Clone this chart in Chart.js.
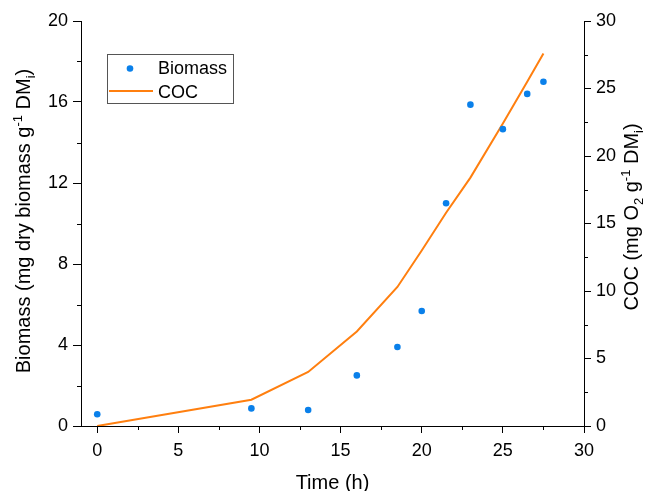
<!DOCTYPE html>
<html>
<head>
<meta charset="utf-8">
<script src="https://cdn.jsdelivr.net/npm/chart.js@4.4.1/dist/chart.umd.min.js"></script>
<style>
  html, body { margin: 0; padding: 0; background: #fff; }
</style>
</head>
<body>
<canvas id="myChart" width="649" height="491"></canvas>
<script>
// DATA
const timeH = [0, 9.5, 13, 16, 18.5, 20, 21.5, 23, 25, 26.5, 27.5];
const biomass = [0.58, 0.87, 0.79, 2.5, 3.9, 5.68, 11.0, 15.87, 14.66, 16.4, 17.0];
const coc = [0, 1.95, 4.0, 7.0, 10.3, 13.0, 15.8, 18.4, 22.4, 25.5, 27.6];

const xTicks = [0, 5, 10, 15, 20, 25, 30];
const biomassTicks = [0, 4, 8, 12, 16, 20];
const cocTicks = [0, 5, 10, 15, 20, 25, 30];

const FONT = "'Liberation Sans', Arial, sans-serif";
const blue = '#0a80ea';
const orange = '#ff7f0f';

function pts(xs, ys) {
  return xs.map((x, i) => ({ x: x, y: ys[i] }));
}
function setTicks(arr) {
  return (scale) => { scale.ticks = arr.map(v => ({ value: v })); };
}

// minor ticks half way between the major ones
const minorTicks = {
  id: 'minorTicks',
  afterDraw(chart) {
    const ctx = chart.ctx;
    const sx = chart.scales.x, sy = chart.scales.y, sy2 = chart.scales.y2;
    ctx.save();
    ctx.strokeStyle = '#000';
    ctx.lineWidth = 1;
    ctx.beginPath();
    for (let i = 0; i < xTicks.length - 1; i++) {
      const px = Math.round(sx.getPixelForValue((xTicks[i] + xTicks[i + 1]) / 2)) + 0.5;
      ctx.moveTo(px, sx.top);
      ctx.lineTo(px, sx.top + 4);
    }
    for (let i = 0; i < biomassTicks.length - 1; i++) {
      const py = Math.round(sy.getPixelForValue((biomassTicks[i] + biomassTicks[i + 1]) / 2)) + 0.5;
      ctx.moveTo(sy.right, py);
      ctx.lineTo(sy.right - 4, py);
    }
    for (let i = 0; i < cocTicks.length - 1; i++) {
      const py = Math.round(sy2.getPixelForValue((cocTicks[i] + cocTicks[i + 1]) / 2)) + 0.5;
      ctx.moveTo(sy2.left, py);
      ctx.lineTo(sy2.left + 4, py);
    }
    ctx.stroke();
    ctx.restore();
  }
};

// axis titles with sub/superscripts
function drawRich(ctx, parts, x, y, rotate) {
  ctx.save();
  ctx.translate(x, y);
  if (rotate) ctx.rotate(-Math.PI / 2);
  ctx.textBaseline = 'alphabetic';
  ctx.fillStyle = '#000';
  let total = 0;
  parts.forEach(p => {
    ctx.font = (p.sup || p.sub ? 13 : 20) + 'px ' + FONT;
    p.w = ctx.measureText(p.t).width;
    total += p.w;
  });
  let cx = -total / 2;
  parts.forEach(p => {
    ctx.font = (p.sup || p.sub ? 13 : 20) + 'px ' + FONT;
    const dy = p.sup ? -8 : (p.sub ? 5 : 0);
    ctx.fillText(p.t, cx, dy);
    cx += p.w;
  });
  ctx.restore();
}

const axisTitles = {
  id: 'axisTitles',
  afterDraw(chart) {
    const ctx = chart.ctx;
    const a = chart.chartArea;
    drawRich(ctx, [{ t: 'Time (h)' }], (a.left + a.right) / 2, 489, false);
    drawRich(ctx, [
      { t: 'Biomass (mg dry biomass g' }, { t: '-1', sup: true },
      { t: ' DM' }, { t: 'i', sub: true }, { t: ')' }
    ], 30, 221, true);
    drawRich(ctx, [
      { t: 'COC (mg O' }, { t: '2', sub: true }, { t: ' g' }, { t: '-1', sup: true },
      { t: ' DM' }, { t: 'i', sub: true }, { t: ')' }
    ], 638, 217, true);
  }
};

// legend with a frame, top left in the plot
const boxLegend = {
  id: 'boxLegend',
  afterDraw(chart) {
    const ctx = chart.ctx;
    const ds = chart.data.datasets;
    ctx.save();
    ctx.strokeStyle = '#555';
    ctx.lineWidth = 1;
    ctx.strokeRect(107.5, 54.5, 126, 49);
    ctx.font = '18px ' + FONT;
    ctx.fillStyle = '#000';
    ctx.textBaseline = 'alphabetic';
    // biomass
    ctx.beginPath();
    ctx.fillStyle = ds[0].backgroundColor;
    ctx.arc(130, 68.5, 3.3, 0, Math.PI * 2);
    ctx.fill();
    ctx.fillStyle = '#000';
    ctx.fillText(ds[0].label, 158, 73.5);
    // coc
    ctx.beginPath();
    ctx.strokeStyle = ds[1].borderColor;
    ctx.lineWidth = 2;
    ctx.moveTo(109, 91);
    ctx.lineTo(153, 91);
    ctx.stroke();
    ctx.fillText(ds[1].label, 158, 98);
    ctx.restore();
  }
};

const tickFont = { family: FONT, size: 18 };

const config = {
  type: 'scatter',
  data: {
    datasets: [{
      label: 'Biomass',
      data: pts(timeH, biomass),
      yAxisID: 'y',
      backgroundColor: blue,
      borderColor: blue,
      pointRadius: 3.3,
      pointBorderWidth: 0,
      order: 1
    }, {
      label: 'COC',
      data: pts(timeH, coc),
      yAxisID: 'y2',
      showLine: true,
      borderColor: orange,
      backgroundColor: orange,
      borderWidth: 2,
      pointRadius: 0,
      tension: 0,
      order: 2
    }]
  },
  options: {
    responsive: false,
    animation: false,
    layout: { padding: { top: 21, left: 0, right: 0, bottom: 0 } },
    plugins: {
      legend: { display: false },
      tooltip: { enabled: false }
    },
    scales: {
      x: {
        type: 'linear',
        min: -1,
        max: 30,
        afterBuildTicks: setTicks(xTicks),
        afterFit: (s) => { s.height = 65; },
        ticks: { font: tickFont, color: '#000', padding: 7, maxRotation: 0 },
        grid: { drawOnChartArea: false, tickLength: 7, color: '#000' },
        border: { color: '#000', width: 1 }
      },
      y: {
        position: 'left',
        min: 0,
        max: 20,
        afterBuildTicks: setTicks(biomassTicks),
        afterFit: (s) => { s.width = 81; },
        ticks: { font: tickFont, color: '#000', padding: 5 },
        grid: { drawOnChartArea: false, tickLength: 8, color: '#000' },
        border: { color: '#000', width: 1 }
      },
      y2: {
        position: 'right',
        min: 0,
        max: 30,
        afterBuildTicks: setTicks(cocTicks),
        afterFit: (s) => { s.width = 65; },
        ticks: { font: tickFont, color: '#000', padding: 5 },
        grid: { drawOnChartArea: false, tickLength: 7, color: '#000' },
        border: { color: '#000', width: 1 }
      }
    }
  },
  plugins: [minorTicks, axisTitles, boxLegend]
};

var chart = document.querySelector('#myChart');
var myChart = new Chart(chart, config);
</script>
</body>
</html>
